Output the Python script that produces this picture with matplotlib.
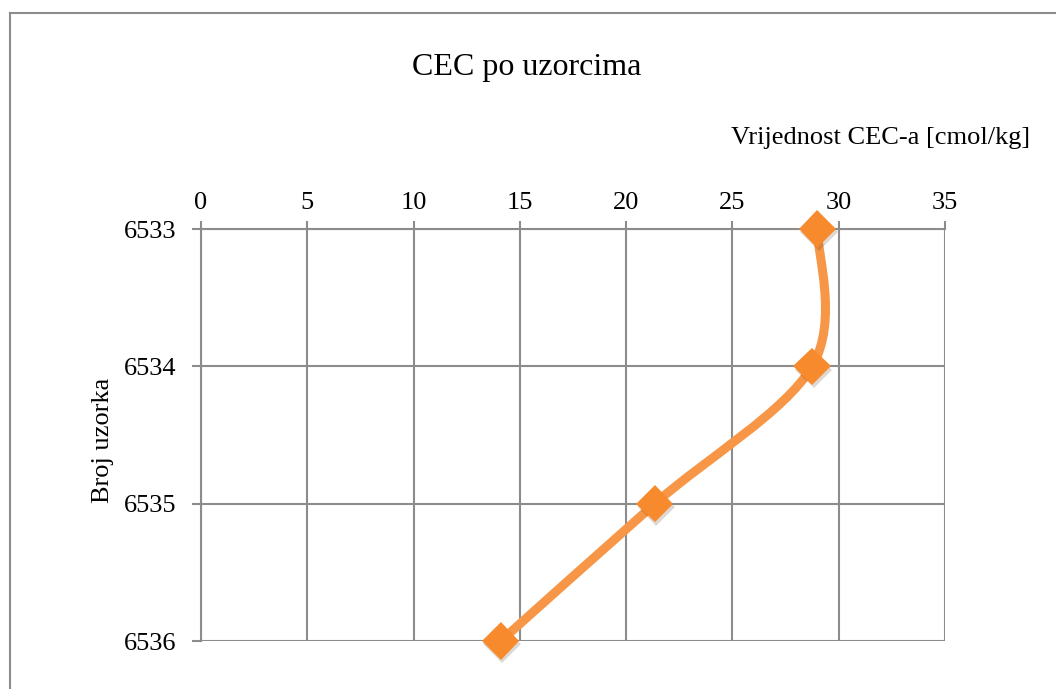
import numpy as np
import matplotlib
matplotlib.use("Agg")
import matplotlib.pyplot as plt
from matplotlib.path import Path
from matplotlib.patches import PathPatch
import matplotlib.patheffects as pe

# podaci
uzorci = ["6533", "6534", "6535", "6536"]
cec = [29.0, 28.75, 21.35, 14.1]
x_ticks = [0, 5, 10, 15, 20, 25, 30, 35]

plt.rcParams['font.family'] = ['Liberation Serif', 'DejaVu Serif']

W, H = 1056, 689
fig = plt.figure(figsize=(W / 100, H / 100), dpi=100)
ax = fig.add_axes([201 / W, 1 - 641 / H, 744 / W, 412 / H])

grey = '#8c8c8c'
orange = '#f79646'

y = np.arange(len(uzorci))
x = np.array(cec)

# glatka linija (kao Excel "smoothed line")
pts = np.column_stack([x, y])
verts = [pts[0]]
codes = [Path.MOVETO]
n = len(pts)
for i in range(n - 1):
    p_prev = pts[i - 1] if i > 0 else pts[i]
    p_next = pts[i + 2] if i + 2 < n else pts[i + 1]
    c1 = pts[i] + (pts[i + 1] - p_prev) / 6
    c2 = pts[i + 1] - (p_next - pts[i]) / 6
    verts += [c1, c2, pts[i + 1]]
    codes += [Path.CURVE4] * 3
curve = PathPatch(Path(verts, codes), facecolor='none', edgecolor=orange,
                  lw=6.5, capstyle='round', zorder=3, clip_on=False)
ax.add_patch(curve)

ax.plot(x, y, linestyle='none', marker='D', markersize=19, color='#f68a2c',
        markeredgewidth=0, zorder=4, clip_on=False,
        path_effects=[pe.SimplePatchShadow(offset=(1, -2.5), alpha=0.18), pe.Normal()])

ax.set_xlim(0, 35)
ax.set_ylim(len(uzorci) - 1, 0)
ax.set_xticks(x_ticks)
ax.set_yticks(y)
ax.set_yticklabels(uzorci)

ax.xaxis.tick_top()
ax.tick_params(axis='x', which='both', direction='out', length=6, width=1.5,
               color=grey, labelsize=19, pad=5)
ax.tick_params(axis='y', which='both', direction='out', length=6.5, width=1.5,
               color=grey, labelsize=19, pad=11)
ax.grid(True, color=grey, lw=1.5)
ax.set_axisbelow(True)
for s in ('bottom', 'right'):
    ax.spines[s].set_visible(False)
for s in ('top', 'left'):
    ax.spines[s].set_color(grey)
    ax.spines[s].set_linewidth(1.5)

fig.text(527 / W, 1 - 68 / H, 'CEC po uzorcima', ha='center', va='center', fontsize=23)
fig.text(1030 / W, 1 - 138 / H, 'Vrijednost CEC-a [cmol/kg]', ha='right', va='center', fontsize=19)
fig.text(103 / W, 1 - 440 / H, 'Broj uzorka', ha='center', va='center', rotation=90, fontsize=19)

# okvir grafikona
fig.add_artist(plt.Line2D([10 / W, 10 / W], [0, 1 - 13 / H], color=grey, lw=1.5))
fig.add_artist(plt.Line2D([10 / W, 1], [1 - 13 / H, 1 - 13 / H], color=grey, lw=1.5))

fig.savefig('out.png', dpi=100)
